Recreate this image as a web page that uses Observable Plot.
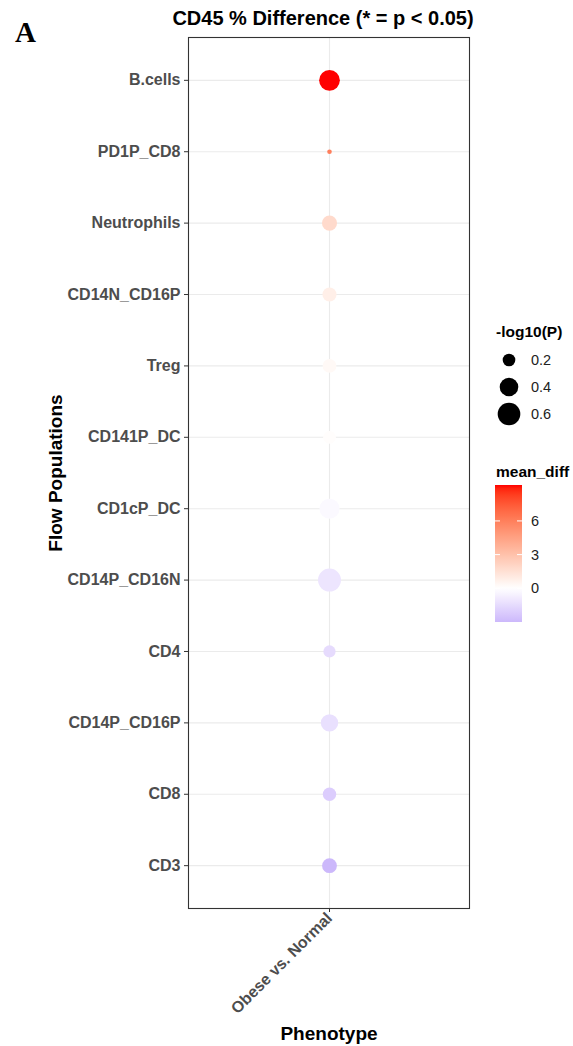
<!DOCTYPE html>
<html><head><meta charset="utf-8">
<script src="https://cdn.jsdelivr.net/npm/d3@7"></script>
<script src="https://cdn.jsdelivr.net/npm/@observablehq/plot@0.6"></script>
<style>body{margin:0;background:#fff;}</style>
</head><body><div id="chart"></div>
<script>
// ---- data ----
const populations = ["B.cells","PD1P_CD8","Neutrophils","CD14N_CD16P","Treg","CD141P_DC","CD1cP_DC","CD14P_CD16N","CD4","CD14P_CD16P","CD8","CD3"];
const phenotypes = ["Obese vs. Normal"];
const negLog10P = [0.50, 0.10, 0.27, 0.24, 0.23, 0.20, 0.47, 0.62, 0.19, 0.35, 0.22, 0.26];
const meanDiff  = [9.2, 6.0, 1.8, 0.8, 0.3, 0.1, -0.25, -1.1, -1.5, -1.3, -2.1, -3.0];
const sizeBreaks = [0.2, 0.4, 0.6];
const colorBreaks = [0, 3, 6];
const pLimits = [0.10, 0.62];
const diffLimits = [-3.0, 9.2];
const titleText = "CD45 % Difference (* = p < 0.05)";

const data = populations.map((pop, i) => ({pop, phenotype: phenotypes[0], logp: negLog10P[i], diff: meanDiff[i]}));

const font = "'Liberation Sans', Arial, Helvetica, sans-serif";
const chart = Plot.plot({
  width: 573, height: 1046,
  marginLeft: 188, marginRight: 104, marginTop: 37, marginBottom: 138,
  style: {fontFamily: font, background: "#fff"},
  x: {type: "point", domain: phenotypes, axis: null},
  y: {type: "point", domain: populations, padding: 0.6, round: false, axis: null},
  r: {type: "sqrt", domain: [0, pLimits[1] - pLimits[0]], range: [2.3, 11.5]},
  color: {type: "diverging", pivot: 0, symmetric: false, domain: diffLimits,
          interpolate: d3.piecewise(d3.interpolateLab, ["#ccb8fb", "#ffffff", "#ff0000"])},
  marks: [
    Plot.gridY({stroke: "#ebebeb", strokeOpacity: 1, strokeWidth: 1.1}),
    Plot.gridX({stroke: "#ebebeb", strokeOpacity: 1, strokeWidth: 1.1}),
    Plot.dot(data, {x: "phenotype", y: "pop", r: d => d.logp - pLimits[0], fill: "diff"}),
    Plot.frame({stroke: "#333333", strokeWidth: 1.1}),
    Plot.axisY({tickSize: 4, tickPadding: 4, stroke: "#333", fill: "#4d4d4d", fontSize: 16, fontWeight: "bold", label: null}),
    Plot.axisX({tickSize: 4, tickPadding: 3, tickRotate: -45, stroke: "#333", fill: "#4d4d4d", fontSize: 16, fontWeight: "bold", label: null}),
    Plot.text([titleText], {frameAnchor: "top", dx: -6, dy: -19, lineAnchor: "middle", fontSize: 20, fontWeight: "bold", fill: "#000"}),
    Plot.text(["Flow Populations"], {frameAnchor: "left", dx: -133, rotate: -90, textAnchor: "middle", lineAnchor: "middle", fontSize: 19, fontWeight: "bold", fill: "#000"}),
    Plot.text(["Phenotype"], {frameAnchor: "bottom", dy: 125, lineAnchor: "middle", fontSize: 19, fontWeight: "bold", fill: "#000"}),
    Plot.text(["A"], {frameAnchor: "top-left", dx: -163, dy: -5, textAnchor: "middle", lineAnchor: "middle", fontSize: 29, fontWeight: "bold", fontFamily: "'Liberation Serif', 'DejaVu Serif', serif", fill: "#000"})
  ]
});
document.getElementById("chart").appendChild(chart);

// ---- legends, drawn with the chart's own scales ----
const svg = d3.select(chart);
const rScale = chart.scale("r");
const cScale = chart.scale("color");
const g = svg.append("g").attr("font-family", font).attr("text-anchor", "start");

g.append("text").attr("x", 496).attr("y", 332).attr("dy", "0.35em")
  .attr("font-size", 15.5).attr("font-weight", "bold").attr("fill", "#000").text("-log10(P)");
sizeBreaks.forEach((b, i) => {
  const y = 360 + i * 27;
  g.append("circle").attr("cx", 509).attr("cy", y).attr("r", rScale.apply(b - pLimits[0])).attr("fill", "#000");
  g.append("text").attr("x", 531).attr("y", y).attr("dy", "0.35em").attr("font-size", 14.5)
    .attr("fill", "#222").text(b.toFixed(1));
});

g.append("text").attr("x", 496).attr("y", 472).attr("dy", "0.35em")
  .attr("font-size", 15.5).attr("font-weight", "bold").attr("fill", "#000").text("mean_diff");
const barX = 495, barW = 27, barTop = 485, barBot = 622;
const barY = d3.scaleLinear().domain(diffLimits).range([barBot, barTop]);
const grad = svg.append("defs").append("linearGradient").attr("id", "mdgrad")
  .attr("x1", 0).attr("y1", 1).attr("x2", 0).attr("y2", 0);
d3.range(0, 41).forEach(k => {
  const t = k / 40;
  const v = diffLimits[0] + t * (diffLimits[1] - diffLimits[0]);
  grad.append("stop").attr("offset", t).attr("stop-color", cScale.apply(v));
});
g.append("rect").attr("x", barX).attr("y", barTop).attr("width", barW).attr("height", barBot - barTop).attr("fill", "url(#mdgrad)");
colorBreaks.forEach(b => {
  const y = barY(b);
  g.append("line").attr("x1", barX).attr("x2", barX + 5).attr("y1", y).attr("y2", y).attr("stroke", "#fff").attr("stroke-width", 1);
  g.append("line").attr("x1", barX + barW - 5).attr("x2", barX + barW).attr("y1", y).attr("y2", y).attr("stroke", "#fff").attr("stroke-width", 1);
  g.append("text").attr("x", 531).attr("y", y).attr("dy", "0.35em").attr("font-size", 14.5)
    .attr("fill", "#222").text(b);
});
</script>
</body></html>
